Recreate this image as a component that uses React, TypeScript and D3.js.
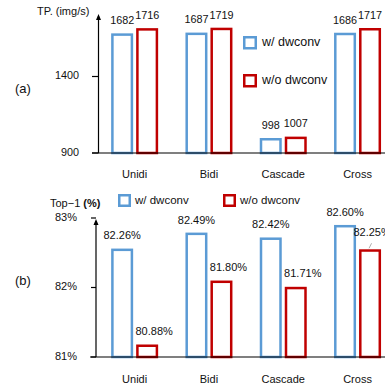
import React from "react";
import * as d3 from "d3";

const categories = ["Unidi", "Bidi", "Cascade", "Cross"];
const seriesNames = ["w/ dwconv", "w/o dwconv"];
const tpWith = [1682, 1687, 998, 1686];
const tpWithout = [1716, 1719, 1007, 1717];
const accWith = [82.26, 82.49, 82.42, 82.6];
const accWithout = [80.88, 81.8, 81.71, 82.25];
const tpTicks = [900, 1400];
const accTickLabels = ["81%", "82%", "83%"];

const BLUE = "#5B9BD5";
const RED = "#C00000";
const FONT = "'Liberation Sans', Arial, Helvetica, sans-serif";
const SW = 2.5;

export default function App() {
  const W = 385, H = 386;
  const x = d3.scaleBand<string>().domain(categories).range([97.5, 394.7]);
  const sub = d3.scaleBand<string>().domain(seriesNames).range([-23.5, 23.5]).paddingInner(0.12);
  const yA = d3.scaleLinear().domain([900, 1400]).range([153, 76.5]);
  const yB = d3.scaleLinear().domain([80.7, 82.7]).range([357, 218]);
  const colors = [BLUE, RED];

  const cx = (c: string) => (x(c) as number) + x.bandwidth() / 2;
  const bx = (c: string, s: number) => cx(c) + (sub(seriesNames[s]) as number);
  const bw = sub.bandwidth();

  const bar = (c: string, s: number, yTop: number, yBase: number, key: string) => (
    <rect key={key} x={bx(c, s) + SW / 2} y={yTop + SW / 2} width={bw - SW}
      height={Math.max(0, yBase - yTop - SW / 2)} fill="#fff" stroke={colors[s]} strokeWidth={SW} />
  );

  const arrow = (ax: number, tip: number) => (
    <path d={`M${ax - 2.5},${tip + 6} L${ax},${tip} L${ax + 2.5},${tip + 6} Z`} fill="#000" />
  );

  return (
    <svg width={W} height={H} style={{ position: "absolute", left: 0, top: 0, background: "#fff" }}
      fontFamily={FONT}>
      {/* ---------- (a) throughput ---------- */}
      <text x={37} y={12} fontSize={11} dominantBaseline="middle" fill="#111">TP. (img/s)</text>
      <text x={15} y={90} fontSize={13} dominantBaseline="middle" fill="#111">(a)</text>
      {categories.map((c, i) => (
        <g key={"a" + c}>
          {bar(c, 0, yA(tpWith[i]), yA(900), "aw")}
          {bar(c, 1, yA(tpWithout[i]), yA(900), "ao")}
          <text x={bx(c, 0) + bw / 2} y={yA(tpWith[i]) - 12} fontSize={10.8} textAnchor="middle"
            dominantBaseline="middle" fill="#111">{tpWith[i]}</text>
          <text x={bx(c, 1) + bw / 2} y={yA(tpWithout[i]) - 12} fontSize={10.8} textAnchor="middle"
            dominantBaseline="middle" fill="#111">{tpWithout[i]}</text>
          <text x={cx(c)} y={175} fontSize={11} textAnchor="middle" dominantBaseline="middle" fill="#111">{c}</text>
        </g>
      ))}
      <line x1={92} x2={W} y1={yA(900)} y2={yA(900)} stroke="#000" strokeWidth={1.2} />
      <line x1={98.5} x2={98.5} y1={yA(900)} y2={16} stroke="#000" strokeWidth={1.2} />
      {arrow(98.5, 14)}
      {tpTicks.map((t) => (
        <g key={"ta" + t}>
          <line x1={92} x2={98.5} y1={yA(t)} y2={yA(t)} stroke="#000" strokeWidth={1.2} />
          <text x={79} y={yA(t)} fontSize={10.8} textAnchor="end" dominantBaseline="middle" fill="#111">{t}</text>
        </g>
      ))}
      {/* legend (a) */}
      {seriesNames.map((s, i) => (
        <g key={"la" + s}>
          <rect x={244.25} y={37.25 + i * 38} width={11.5} height={11} fill="#fff" stroke={colors[i]} strokeWidth={SW} />
          <text x={262} y={43 + i * 38} fontSize={12.5} dominantBaseline="middle" fill="#111">{s}</text>
        </g>
      ))}

      {/* ---------- (b) accuracy ---------- */}
      <text x={50} y={204} fontSize={11} dominantBaseline="middle" fill="#111">
        Top−1 <tspan fontWeight="bold">(%)</tspan>
      </text>
      <text x={15} y={282} fontSize={13} dominantBaseline="middle" fill="#111">(b)</text>
      {categories.map((c, i) => {
        const isCross = c === "Cross";
        const rTop = yB(accWithout[i]);
        const rx = bx(c, 1) + bw / 2;
        return (
          <g key={"b" + c}>
            {bar(c, 0, yB(accWith[i]), yB(80.7), "bw")}
            {bar(c, 1, rTop, yB(80.7), "bo")}
            <text x={bx(c, 0) + bw / 2} y={yB(accWith[i]) - 12} fontSize={11} textAnchor="middle"
              dominantBaseline="middle" fill="#111">{accWith[i].toFixed(2)}%</text>
            <text x={isCross ? rx + 2 : rx + 7} y={isCross ? rTop - 16 : rTop - 12.5} fontSize={11}
              textAnchor="middle" dominantBaseline="middle" fill="#111">{accWithout[i].toFixed(2)}%</text>
            {isCross && (
              <line x1={rx + 1.5} y1={rTop - 6} x2={rx - 1} y2={rTop - 1} stroke="#999" strokeWidth={0.8} />
            )}
            <text x={cx(c)} y={380} fontSize={11} textAnchor="middle" dominantBaseline="middle" fill="#111">{c}</text>
          </g>
        );
      })}
      <line x1={90} x2={W} y1={yB(80.7)} y2={yB(80.7)} stroke="#000" strokeWidth={1.2} />
      <line x1={96} x2={96} y1={yB(80.7)} y2={221} stroke="#000" strokeWidth={1.2} />
      {arrow(96, 219)}
      {accTickLabels.map((t, i) => (
        <g key={"tb" + t}>
          <line x1={91} x2={96} y1={yB(80.7 + i)} y2={yB(80.7 + i)} stroke="#000" strokeWidth={1.2} />
          <text x={77} y={yB(80.7 + i)} fontSize={11} textAnchor="end" dominantBaseline="middle" fill="#111">{t}</text>
        </g>
      ))}
      {/* legend (b) */}
      {seriesNames.map((s, i) => (
        <g key={"lb" + s}>
          <rect x={119.25 + i * 105} y={195.25} width={10.5} height={10.5} fill="#fff" stroke={colors[i]} strokeWidth={SW} />
          <text x={135 + i * 105} y={201} fontSize={11.5} dominantBaseline="middle" fill="#111">{s}</text>
        </g>
      ))}
    </svg>
  );
}
